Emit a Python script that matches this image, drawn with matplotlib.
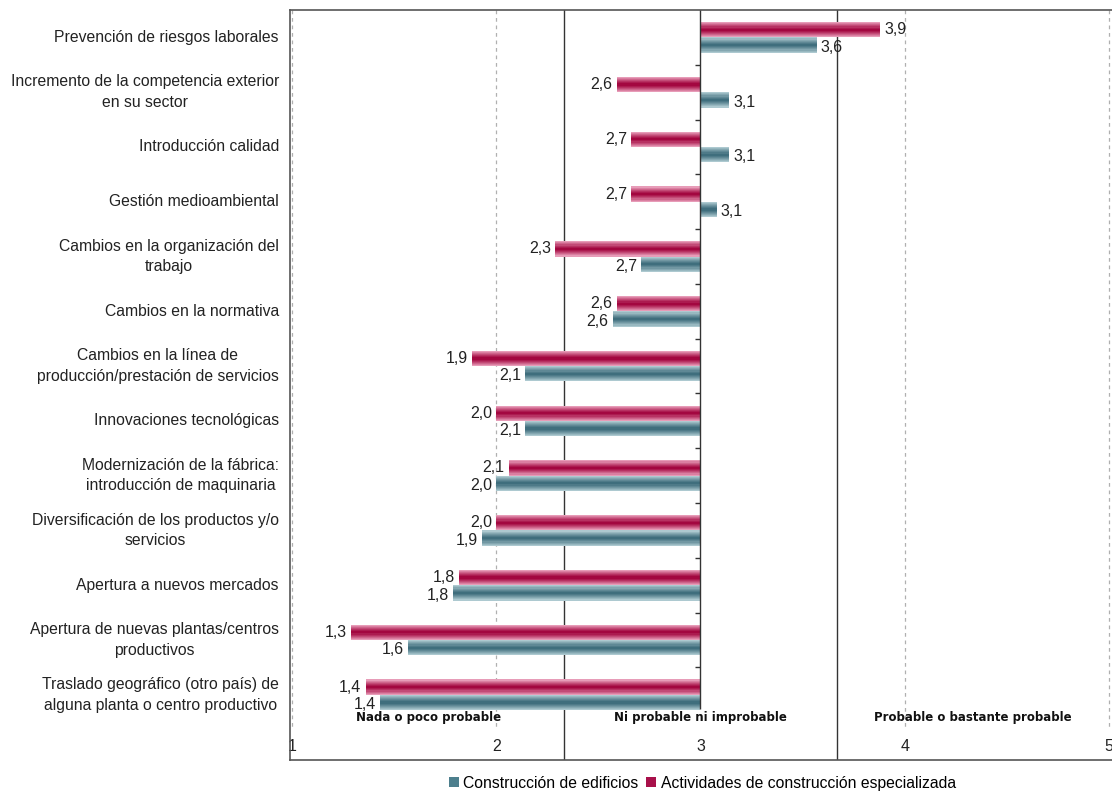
import numpy as np
import matplotlib
matplotlib.use("Agg")
import matplotlib.pyplot as plt
from matplotlib.colors import to_rgb
from matplotlib.patches import Patch

plt.rcParams['font.family'] = ['Liberation Sans', 'DejaVu Sans']

categorias = [
    "Prevención de riesgos laborales",
    "Incremento de la competencia exterior\nen su sector",
    "Introducción calidad",
    "Gestión medioambiental",
    "Cambios en la organización del\ntrabajo",
    "Cambios en la normativa",
    "Cambios en la línea de\nproducción/prestación de servicios",
    "Innovaciones tecnológicas",
    "Modernización de la fábrica:\nintroducción de maquinaria",
    "Diversificación de los productos y/o\nservicios",
    "Apertura a nuevos mercados",
    "Apertura de nuevas plantas/centros\nproductivos",
    "Traslado geográfico (otro país) de\nalguna planta o centro productivo",
]
edificios = [3.57, 3.14, 3.14, 3.08, 2.71, 2.57, 2.14, 2.14, 2.00, 1.93, 1.79, 1.57, 1.43]
especializada = [3.88, 2.59, 2.66, 2.66, 2.29, 2.59, 1.88, 2.00, 2.06, 2.00, 1.82, 1.29, 1.36]
series_names = ["Construcción de edificios", "Actividades de construcción especializada"]
zonas = ["Nada o poco probable", "Ni probable ni improbable", "Probable o bastante probable"]
xticks = [1, 2, 3, 4, 5]

base = 3.0
bar_h = 0.28
teal_c, teal_e = to_rgb('#3a6a79'), to_rgb('#b8d2d8')
red_c, red_e = to_rgb('#a0003a'), to_rgb('#eeaac4')


def gradient_barh(ax, y, vals, color_c, color_e, n=14):
    # horizontal stripes from light edge to dark centre to light edge
    for k in range(n):
        s = (k + 0.5) / n
        t = abs(2 * s - 1) ** 1.2
        col = tuple(color_c[i] * (1 - t) + color_e[i] * t for i in range(3))
        off = -bar_h / 2 + k * bar_h / n
        ax.barh(y + off, np.array(vals) - base, left=base, height=bar_h / n,
                align='edge', color=col, linewidth=0)


fig = plt.figure(figsize=(11.12, 7.94), dpi=100)
ax = fig.add_axes([290 / 1112, 34 / 794, 825 / 1112, 750 / 794])

y = np.arange(len(categorias))
gradient_barh(ax, y - bar_h / 2, especializada, red_c, red_e)
gradient_barh(ax, y + bar_h / 2, edificios, teal_c, teal_e)

def fmt(v):
    return ("%.1f" % v).replace('.', ',')

lab_kw = dict(va='center', fontsize=11.5, color='#222222')
for yi, v in zip(y, especializada):
    if v >= base:
        ax.text(v + 0.02, yi - bar_h / 2, fmt(v), ha='left', **lab_kw)
    else:
        ax.text(v - 0.02, yi - bar_h / 2, fmt(v), ha='right', **lab_kw)
for yi, v in zip(y, edificios):
    if v >= base:
        ax.text(v + 0.02, yi + bar_h / 2 + 0.04, fmt(v), ha='left', **lab_kw)
    else:
        ax.text(v - 0.02, yi + bar_h / 2 + 0.04, fmt(v), ha='right', **lab_kw)

ax.set_xlim(0.99, 5.03)
ax.set_ylim(13.19, -0.5)

# dashed grid
ax.vlines([1, 2, 4, 5], -0.5, 12.6, colors='#b0b0b0', linestyles=(0, (3, 3)), linewidth=0.9, zorder=0)
# zone separators
for xs in [1 + 4 / 3, 1 + 8 / 3]:
    ax.axvline(xs, color='#333333', linewidth=1.0, zorder=0.5)
# central axis at 3
ax.vlines(base, -0.5, 12.25, colors='#333333', linewidth=1.0, zorder=3)
for b in np.arange(0.5, len(categorias) - 1, 1.0):
    ax.hlines(b, base - 0.025, base, colors='#333333', linewidth=1.0)

# zone labels
for i, z in enumerate(zonas):
    ax.text(1 + 4 / 3 * (i + 0.5), 12.42, z, ha='center', va='center',
            fontsize=8.5, fontweight='bold', color='#111111', family='DejaVu Sans')

ax.set_yticks(y)
ax.set_yticklabels(categorias, fontsize=11.3, color='#222222', linespacing=1.45)
for lab in ax.get_yticklabels():
    lab.set_multialignment('center')
    lab.set_verticalalignment('center')
ax.tick_params(axis='y', length=0, pad=8)

ax.set_xticks(xticks)
ax.set_xticklabels([str(t) for t in xticks], fontsize=11.5, color='#222222')
ax.tick_params(axis='x', length=0, pad=-15)

for sp in ['left', 'top', 'bottom']:
    ax.spines[sp].set_color('#555555')
    ax.spines[sp].set_linewidth(1.2)
ax.spines['right'].set_visible(False)

handles = [Patch(facecolor='#4d7f8d', edgecolor='none'), Patch(facecolor='#a8104a', edgecolor='none')]
ax.legend(handles, series_names, loc='center', bbox_to_anchor=(0.5, -0.031),
          ncol=2, frameon=False, fontsize=11.3, handlelength=0.6, handleheight=0.6,
          handletextpad=0.3, columnspacing=0.5)

fig.savefig("out.png", dpi=100)
